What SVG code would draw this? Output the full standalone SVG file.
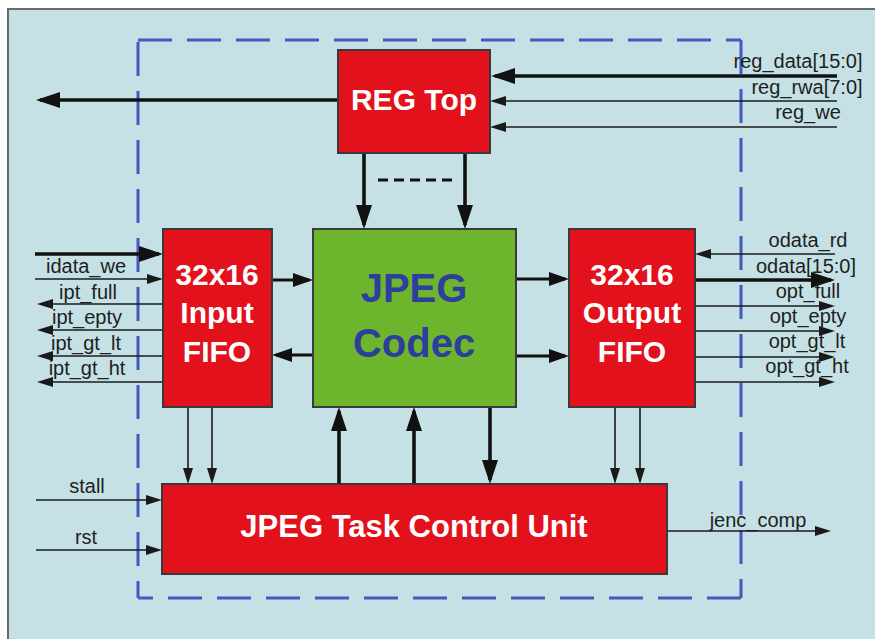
<svg xmlns="http://www.w3.org/2000/svg" width="875" height="639" viewBox="0 0 875 639">
<defs>
<style>
.box{stroke:#3a3a3a;stroke-width:2}
.red{fill:#e2111b}
.green{fill:#6db52d}
.wt{font-family:"Liberation Sans",Arial,sans-serif;font-weight:bold;fill:#ffffff;text-anchor:middle}
.ct{font-family:"Liberation Sans",Arial,sans-serif;font-weight:bold;fill:#2d3e9c;text-anchor:middle;font-size:40px}
.lb{font-family:"Liberation Sans",Arial,sans-serif;font-size:20px;fill:#1e1e1e;text-anchor:middle}
.thin{stroke:#1a1a1a;stroke-width:1.6;fill:none;marker-end:url(#ah)}
.med{stroke:#111;stroke-width:3;fill:none;marker-end:url(#am)}
.thick{stroke:#111;stroke-width:3.6;fill:none;marker-end:url(#at)}
.dash{stroke:#4657c0;stroke-width:3;fill:none;stroke-dasharray:34 15}
</style>
<marker id="ah" markerUnits="userSpaceOnUse" markerWidth="16" markerHeight="10" refX="12" refY="5" orient="auto"><path d="M0,0 L16,5 L0,10 Z" fill="#1a1a1a"/></marker>
<marker id="am" markerUnits="userSpaceOnUse" markerWidth="20" markerHeight="14" refX="16" refY="7" orient="auto"><path d="M0,0 L20,7 L0,14 Z" fill="#111"/></marker>
<marker id="at" markerUnits="userSpaceOnUse" markerWidth="24" markerHeight="16" refX="20" refY="8" orient="auto"><path d="M0,0 L24,8 L0,16 Z" fill="#111"/></marker>
</defs>
<rect x="0" y="0" width="875" height="639" fill="#ffffff"/>
<rect x="8" y="9" width="870" height="634" fill="#c5e1e5" stroke="#6a6a6a" stroke-width="2"/>
<g id="boundary">
<path class="dash" d="M138,40 H741"/>
<path class="dash" d="M741,40 V598"/>
<path class="dash" d="M741,598 H138"/>
<path class="dash" d="M138,598 V40" stroke-dashoffset="17"/>
</g>
<g id="connectors">
<path class="thick" d="M837,76 H495"/>
<path class="thin" d="M837,101 H494"/>
<path class="thin" d="M837,127 H494"/>
<path class="thick" d="M338,100 H40"/>
<path class="thick" d="M364,153 V225"/>
<path class="thick" d="M465,153 V225"/>
<path d="M378,180 H453" stroke="#111" stroke-width="3" stroke-dasharray="10 6" fill="none"/>
<path class="thick" d="M35,254 H159"/>
<path class="thin" d="M35,279 H159"/>
<path class="thin" d="M163,304 H41"/>
<path class="thin" d="M163,330 H41"/>
<path class="thin" d="M163,356 H41"/>
<path class="thin" d="M163,382 H41"/>
<path class="med" d="M272,280 H309"/>
<path class="med" d="M313,355 H276"/>
<path class="thin" d="M188,407 V480"/>
<path class="thin" d="M212,407 V480"/>
<path class="med" d="M516,279 H565"/>
<path class="med" d="M516,356 H565"/>
<path class="thick" d="M339,484 V411"/>
<path class="thick" d="M414,484 V411"/>
<path class="thick" d="M490,407 V480"/>
<path class="thin" d="M835,254 H699"/>
<path class="thick" d="M695,280 H831"/>
<path class="thin" d="M695,306 H831"/>
<path class="thin" d="M695,331 H831"/>
<path class="thin" d="M695,357 H831"/>
<path class="thin" d="M695,382 H831"/>
<path class="thin" d="M615,407 V480"/>
<path class="thin" d="M640,407 V480"/>
<path class="thin" d="M36,500 H158"/>
<path class="thin" d="M36,550 H158"/>
<path class="thin" d="M667,531 H827"/>
</g>
<g id="reg-top">
<rect class="box red" x="338" y="50" width="152" height="103"/>
<text class="wt" x="414" y="110" font-size="30">REG Top</text>
</g>
<g id="input-fifo">
<rect class="box red" x="163" y="229" width="109" height="178"/>
<text class="wt" x="217" y="285" font-size="30">32x16</text>
<text class="wt" x="217" y="323" font-size="30">Input</text>
<text class="wt" x="217" y="362" font-size="30">FIFO</text>
</g>
<g id="jpeg-codec">
<rect class="box green" x="313" y="229" width="203" height="178"/>
<text class="ct" x="414" y="302">JPEG</text>
<text class="ct" x="414" y="357">Codec</text>
</g>
<g id="output-fifo">
<rect class="box red" x="569" y="229" width="126" height="178"/>
<text class="wt" x="632" y="285" font-size="30">32x16</text>
<text class="wt" x="632" y="323" font-size="30">Output</text>
<text class="wt" x="632" y="362" font-size="30">FIFO</text>
</g>
<g id="task-control-unit">
<rect class="box red" x="162" y="484" width="505" height="90"/>
<text class="wt" x="414" y="537" font-size="31">JPEG Task Control Unit</text>
</g>
<g id="labels">
<text class="lb" x="798" y="68">reg_data[15:0]</text>
<text class="lb" x="807" y="94">reg_rwa[7:0]</text>
<text class="lb" x="808" y="119">reg_we</text>
<text class="lb" x="86" y="273">idata_we</text>
<text class="lb" x="88" y="299">ipt_full</text>
<text class="lb" x="87" y="324">ipt_epty</text>
<text class="lb" x="86" y="350">ipt_gt_lt</text>
<text class="lb" x="87" y="375">ipt_gt_ht</text>
<text class="lb" x="808" y="247">odata_rd</text>
<text class="lb" x="806" y="273">odata[15:0]</text>
<text class="lb" x="808" y="298">opt_full</text>
<text class="lb" x="808" y="323">opt_epty</text>
<text class="lb" x="807" y="348">opt_gt_lt</text>
<text class="lb" x="807" y="373">opt_gt_ht</text>
<text class="lb" x="87" y="493">stall</text>
<text class="lb" x="86" y="544">rst</text>
<text class="lb" x="758" y="527">jenc_comp</text>
</g>
</svg>
